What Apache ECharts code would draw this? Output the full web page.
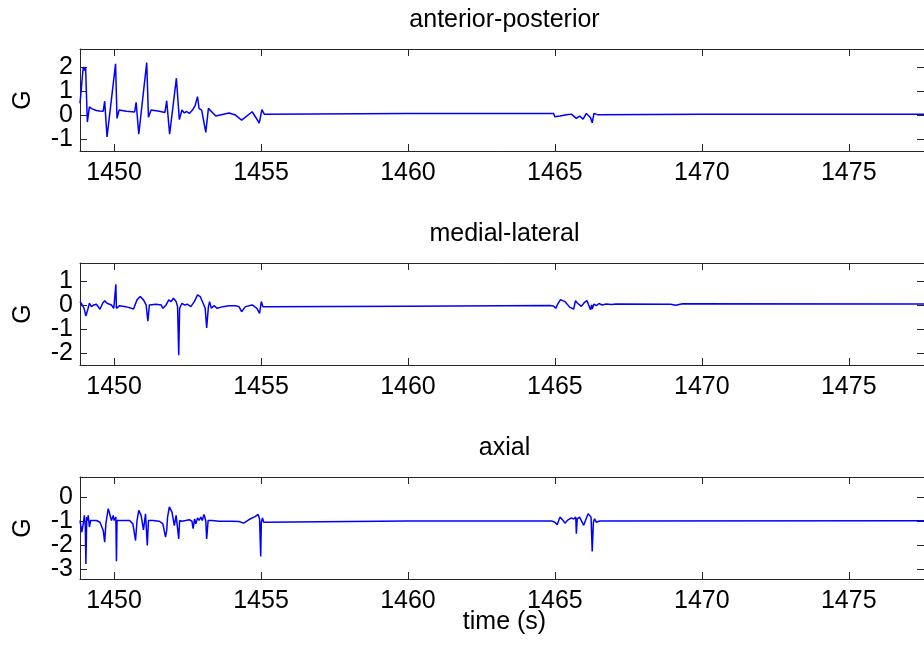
<!DOCTYPE html>
<html>
<head>
<meta charset="utf-8">
<script src="https://cdn.jsdelivr.net/npm/echarts@6/dist/echarts.min.js"></script>
<style>
  html, body { margin: 0; padding: 0; background: #fff; }
  #chart { width: 924px; height: 647px; }
</style>
</head>
<body>
<div id="chart"></div>
<script>
// Time span shown on every panel (seconds)
const T_MIN = 1448.84;
const T_MAX = 1477.56;
const X_TICKS = [1450, 1455, 1460, 1465, 1470, 1475];

// Panel titles and axis labels
const TITLES = ['anterior-posterior', 'medial-lateral', 'axial'];
const Y_NAME = 'G';
const X_NAME = 'time (s)';

// Y ranges and tick labels per panel
const Y_RANGES = [[-1.51, 2.75], [-2.49, 1.74], [-3.39, 0.83]];
const Y_TICKS = [[-1, 0, 1, 2], [-2, -1, 0, 1], [-3, -2, -1, 0]];

// anterior-posterior acceleration (G)
const apTime = [1448.84, 1448.95, 1449.00, 1449.03, 1449.09, 1449.16, 1449.25, 1449.40, 1449.50, 1449.63,
  1449.68, 1449.76, 1450.05, 1450.10, 1450.17, 1450.42, 1450.70, 1450.75, 1450.84, 1451.11,
  1451.17, 1451.26, 1451.54, 1451.73, 1451.79, 1451.89, 1452.12, 1452.22, 1452.31, 1452.39,
  1452.47, 1452.56, 1452.67, 1452.76, 1452.84, 1452.89, 1452.98, 1453.12, 1453.21, 1453.46,
  1453.91, 1454.13, 1454.34, 1454.70, 1454.94, 1455.03, 1455.11, 1460.00, 1464.95, 1465.00,
  1465.17, 1465.40, 1465.56, 1465.73, 1465.84, 1465.96, 1466.07, 1466.21, 1466.27, 1466.33,
  1466.47, 1470.00, 1477.56];
const apValue = [0.48, 2.00, 1.85, 2.00, -0.30, 0.33, 0.25, 0.18, 0.16, 0.15,
  0.57, -0.92, 2.13, -0.15, 0.20, 0.15, 0.12, 0.52, -0.81, 2.18,
  -0.10, 0.20, 0.15, 0.10, 0.59, -0.81, 1.53, -0.20, 0.20, 0.08,
  0.14, 0.06, 0.20, 0.40, 0.76, 0.27, 0.20, -0.73, 0.27, -0.05,
  0.08, -0.01, -0.22, 0.13, -0.34, 0.22, 0.03, 0.06, 0.06, -0.08,
  -0.05, 0.00, 0.03, -0.15, -0.05, -0.18, 0.06, -0.11, -0.33, 0.06,
  0.00, 0.03, 0.02];

// medial-lateral acceleration (G)
const mlTime = [1448.84, 1448.90, 1448.98, 1449.04, 1449.10, 1449.16, 1449.23, 1449.31, 1449.40, 1449.52,
  1449.61, 1449.68, 1449.76, 1449.91, 1449.99, 1450.06, 1450.08, 1450.19, 1450.39, 1450.59,
  1450.66, 1450.78, 1450.89, 1451.00, 1451.09, 1451.15, 1451.20, 1451.43, 1451.60, 1451.66,
  1451.77, 1451.86, 1451.94, 1452.02, 1452.11, 1452.16, 1452.20, 1452.23, 1452.31, 1452.39,
  1452.50, 1452.61, 1452.73, 1452.84, 1452.93, 1453.03, 1453.10, 1453.15, 1453.21, 1453.25,
  1453.31, 1453.40, 1453.51, 1453.70, 1453.91, 1454.13, 1454.25, 1454.34, 1454.47, 1454.70,
  1454.86, 1454.95, 1455.01, 1455.06, 1455.15, 1460.00, 1464.83, 1464.95, 1465.03, 1465.08,
  1465.19, 1465.25, 1465.34, 1465.51, 1465.64, 1465.70, 1465.76, 1465.82, 1465.90, 1465.96,
  1466.01, 1466.09, 1466.16, 1466.21, 1466.25, 1466.27, 1466.33, 1466.41, 1466.50, 1466.61,
  1466.75, 1466.92, 1467.08, 1468.94, 1469.11, 1469.34, 1477.56];
const mlValue = [0.14, 0.03, -0.14, -0.46, -0.21, 0.07, -0.07, 0.00, 0.03, -0.18,
  0.07, 0.17, 0.07, 0.00, -0.14, 0.86, -0.14, -0.03, -0.07, -0.14,
  -0.17, 0.21, 0.35, 0.21, 0.00, -0.67, 0.00, 0.03, 0.00, -0.14,
  0.00, 0.21, 0.14, 0.28, 0.14, -0.07, -2.09, -0.14, 0.07, 0.00,
  0.03, -0.07, 0.14, 0.42, 0.35, 0.07, -0.14, -0.95, -0.07, 0.14,
  -0.14, -0.03, -0.14, -0.07, -0.03, -0.03, -0.07, -0.28, -0.07, 0.00,
  -0.14, -0.35, 0.14, -0.07, -0.07, -0.05, -0.02, -0.04, -0.14, 0.00,
  0.22, 0.28, 0.14, -0.10, -0.17, 0.18, 0.08, 0.14, -0.06, -0.14,
  0.11, 0.18, -0.03, -0.20, 0.00, -0.17, 0.04, -0.03, 0.06, 0.00,
  0.04, 0.02, 0.04, 0.03, -0.01, 0.05, 0.04];

// axial acceleration (G)
const axTime = [1448.84, 1448.90, 1448.95, 1448.99, 1449.02, 1449.04, 1449.07, 1449.10, 1449.12, 1449.16,
  1449.20, 1449.40, 1449.52, 1449.63, 1449.68, 1449.72, 1449.80, 1449.85, 1449.91, 1449.97,
  1450.00, 1450.06, 1450.08, 1450.10, 1450.14, 1450.19, 1450.53, 1450.64, 1450.73, 1450.78,
  1450.84, 1450.92, 1451.00, 1451.07, 1451.13, 1451.17, 1451.23, 1451.32, 1451.54, 1451.66,
  1451.75, 1451.79, 1451.82, 1451.88, 1451.97, 1452.05, 1452.11, 1452.16, 1452.20, 1452.23,
  1452.31, 1452.44, 1452.56, 1452.65, 1452.69, 1452.74, 1452.78, 1452.84, 1452.89, 1452.95,
  1453.00, 1453.06, 1453.12, 1453.15, 1453.20, 1453.25, 1453.34, 1453.57, 1454.02, 1454.25,
  1454.41, 1454.58, 1454.81, 1454.90, 1454.95, 1454.99, 1455.01, 1455.05, 1455.09, 1455.15,
  1460.00, 1464.89, 1465.00, 1465.08, 1465.17, 1465.26, 1465.34, 1465.45, 1465.56, 1465.64,
  1465.71, 1465.73, 1465.76, 1465.84, 1465.93, 1465.98, 1466.05, 1466.13, 1466.18, 1466.23,
  1466.27, 1466.31, 1466.35, 1466.41, 1466.52, 1477.56];
const axValue = [-0.97, -1.45, -1.11, -0.76, -1.18, -2.77, -0.83, -0.97, -0.76, -1.24,
  -0.97, -0.97, -1.04, -1.38, -1.87, -1.11, -0.48, -0.69, -0.97, -0.76,
  -0.97, -0.83, -2.66, -0.97, -0.94, -0.97, -0.97, -1.11, -1.80, -0.97,
  -0.55, -0.76, -1.36, -0.69, -2.00, -0.97, -1.04, -0.97, -1.00, -1.11,
  -1.66, -1.38, -0.83, -0.41, -0.62, -1.18, -0.76, -0.69, -1.73, -0.97,
  -1.00, -0.97, -0.94, -1.00, -1.31, -0.90, -1.11, -0.86, -0.97, -0.83,
  -0.97, -0.72, -0.97, -1.73, -0.97, -1.04, -0.97, -1.00, -1.00, -1.01,
  -1.08, -0.94, -0.80, -0.72, -0.90, -2.46, -1.04, -0.86, -1.04, -1.00,
  -0.99, -0.99, -1.04, -1.15, -0.83, -0.94, -1.08, -0.94, -0.86, -0.91,
  -0.83, -1.52, -0.90, -0.83, -1.05, -1.17, -0.94, -0.69, -0.66, -0.83,
  -2.25, -1.04, -0.90, -1.04, -0.99, -0.98];

const SERIES = [[apTime, apValue], [mlTime, mlValue], [axTime, axValue]];

// Layout of the three stacked panels
const PLOT_LEFT = 80;
const PLOT_WIDTH = 849;
const PANEL_TOPS = [49, 263, 477];
const PANEL_HEIGHT = 102;
const TITLE_Y = [20, 234, 448];
const FONT = 'Liberation Sans, Arial, Helvetica, sans-serif';
const FS = 25;
const AXIS_COLOR = '#262626';
const LINE_COLOR = '#0000ff';

const plain = v => String(v);
const labelStyle = { color: '#000', fontSize: FS, fontFamily: FONT, formatter: plain, hideOverlap: false };

const grids = [], xAxes = [], yAxes = [], series = [], graphics = [];

PANEL_TOPS.forEach((top, i) => {
  grids.push({ left: PLOT_LEFT, top: top, width: PLOT_WIDTH, height: PANEL_HEIGHT, show: false });

  const xBase = {
    type: 'value', gridIndex: i, min: T_MIN, max: T_MAX,
    axisLine: { show: true, onZero: false, lineStyle: { color: AXIS_COLOR, width: 1 } },
    axisTick: { show: true, inside: true, length: 7, customValues: X_TICKS, lineStyle: { color: AXIS_COLOR } },
    splitLine: { show: false }
  };
  // bottom axis with labels
  xAxes.push(Object.assign({}, xBase, {
    position: 'bottom',
    axisLabel: Object.assign({ show: true, customValues: X_TICKS, margin: 10 }, labelStyle)
  }));
  // mirrored top axis, ticks only
  xAxes.push(Object.assign({}, xBase, {
    position: 'top', axisLabel: { show: false }
  }));

  const yBase = {
    type: 'value', gridIndex: i, min: Y_RANGES[i][0], max: Y_RANGES[i][1],
    axisLine: { show: true, onZero: false, lineStyle: { color: AXIS_COLOR, width: 1 } },
    axisTick: { show: true, inside: true, length: 7, customValues: Y_TICKS[i], lineStyle: { color: AXIS_COLOR } },
    splitLine: { show: false }
  };
  // the tick labels sit close together, so they are split over two
  // coincident left axes to keep every one of them visible
  const ticksA = Y_TICKS[i].filter((_, k) => k % 2 === 0);
  const ticksB = Y_TICKS[i].filter((_, k) => k % 2 === 1);
  const yLeftIndex = yAxes.length;
  yAxes.push(Object.assign({}, yBase, {
    position: 'left',
    name: Y_NAME, nameLocation: 'middle', nameGap: 44,
    nameTextStyle: { color: '#000', fontSize: FS, fontFamily: FONT },
    axisLabel: Object.assign({ show: true, customValues: ticksA, margin: 7 }, labelStyle)
  }));
  yAxes.push(Object.assign({}, yBase, {
    position: 'right', axisLabel: { show: false }
  }));
  yAxes.push(Object.assign({}, yBase, {
    position: 'left',
    axisLine: { show: false, onZero: false },
    axisTick: { show: false },
    axisLabel: Object.assign({ show: true, customValues: ticksB, margin: 7 }, labelStyle)
  }));

  const [ts, vs] = SERIES[i];
  series.push({
    type: 'line',
    xAxisIndex: 2 * i, yAxisIndex: yLeftIndex,
    data: ts.map((t, k) => [t, vs[k]]),
    showSymbol: false, symbol: 'none',
    lineStyle: { color: LINE_COLOR, width: 1.5 },
    animation: false,
    silent: true
  });

  graphics.push({
    type: 'text', x: PLOT_LEFT + PLOT_WIDTH / 2, y: TITLE_Y[i],
    style: { text: TITLES[i], font: FS + 'px ' + FONT, fill: '#000', align: 'center', verticalAlign: 'middle' }
  });
});

graphics.push({
  type: 'text', x: PLOT_LEFT + PLOT_WIDTH / 2, y: 622,
  style: { text: X_NAME, font: FS + 'px ' + FONT, fill: '#000', align: 'center', verticalAlign: 'middle' }
});

const chart = echarts.init(document.getElementById('chart'), null, { renderer: 'canvas' });
chart.setOption({
  backgroundColor: '#ffffff',
  animation: false,
  grid: grids,
  xAxis: xAxes,
  yAxis: yAxes,
  series: series,
  graphic: graphics
});
</script>
</body>
</html>
